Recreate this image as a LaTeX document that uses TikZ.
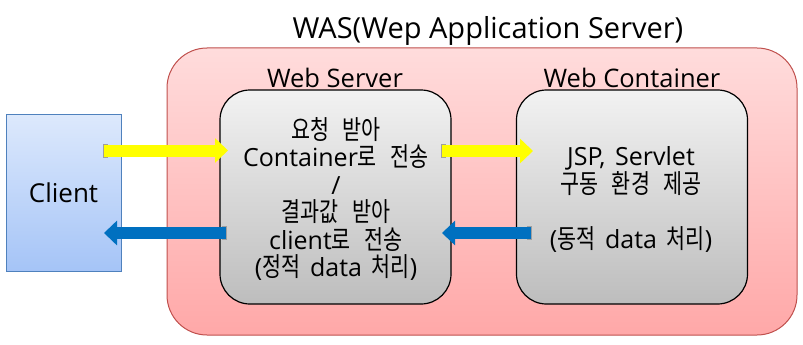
\documentclass[tikz,border=0pt]{standalone}
\usepackage{fontspec}
\setmainfont{Open Sans}
\newfontfamily\boxfont[WordSpace=1.5]{Open Sans}
\newfontfamily\kr[WordSpace=3,FakeStretch=0.78]{Noto Sans CJK KR}
\usetikzlibrary{arrows.meta}
\definecolor{wastop}{HTML}{FFDCDC}
\definecolor{wasbot}{HTML}{FFA8A8}
\definecolor{wasline}{HTML}{C0504D}
\definecolor{cltop}{HTML}{DDE9FC}
\definecolor{clbot}{HTML}{A5C4F7}
\definecolor{clline}{HTML}{4F81BD}
\definecolor{bxtop}{HTML}{F2F2F2}
\definecolor{bxbot}{HTML}{BDBDBD}
\definecolor{arrblue}{HTML}{0070C0}
\definecolor{arryel}{HTML}{FFFF00}
\tikzset{
  wasbox/.style={draw=wasline, line width=1pt, rounded corners=40pt, top color=wastop, bottom color=wasbot, minimum width=630pt, minimum height=287pt, inner sep=0pt},
  clientbox/.style={draw=clline, line width=1pt, top color=cltop, bottom color=clbot, minimum width=115pt, minimum height=157pt, inner sep=0pt},
  srvbox/.style={draw=black, line width=1.2pt, rounded corners=30pt, top color=bxtop, bottom color=bxbot, minimum width=231pt, minimum height=214pt, inner sep=0pt},
  boxtext/.style={align=center, font=\boxfont\fontsize{25}{27.5}\selectfont, inner sep=0pt},
  lbl/.style={font=\fontsize{25.5}{28}\selectfont, inner sep=0pt, anchor=base},
  ttl/.style={font=\fontsize{29}{30}\selectfont, inner sep=0pt, anchor=base},
  yelarrow/.style={draw=arryel, line width=12pt, -{Triangle[length=13pt,width=24pt]}},
  bluarrow/.style={draw=arrblue, line width=12pt, -{Triangle[length=13pt,width=24pt]}},
}
\newcommand{\ko}[1]{{\kr\fontsize{26.5}{27.5}\selectfont #1}}
\begin{document}
\begin{tikzpicture}[x=1pt,y=-1pt]
\useasboundingbox (0,0) rectangle (803,345);
\node[wasbox] (was) at (482,191.5) {};
\node[ttl] (wastitle) at (488,39) {WAS(Wep Application Server)};
\node[clientbox] (client) at (63.5,192.5) {};
\node[font=\fontsize{26}{28}\selectfont, inner sep=0pt] (clienttext) at (63.5,192.5) {Client};
\node[srvbox] (ws) at (335.5,197) {};
\node[srvbox] (wc) at (632,197) {};
\node[lbl] (wslbl) at (335,87) {Web Server};
\node[lbl] (wclbl) at (632,87) {Web Container};
\node[boxtext] (wstext) at (336,199) {\ko{요청 받아}\\Container\ko{로 전송}\\/\\\ko{결과값 받아}\\client\ko{로 전송}\\(\ko{정적} data \ko{처리})};
\node[boxtext] (wctext) at (631,199.5) {JSP, Servlet\\\ko{구동 환경 제공}\\[27.5pt](\ko{동적} data \ko{처리})};
% arrow end points
\coordinate (y1s) at (104,150.5);
\coordinate (y1e) at (228,150.5);
\coordinate (b1s) at (226,233);
\coordinate (b1e) at (104,233);
\coordinate (y2s) at (442,151);
\coordinate (y2e) at (533,151);
\coordinate (b2s) at (531,233);
\coordinate (b2e) at (442,233);
\fill[gray!75] ([xshift=-1pt]y1s) ++(0,-7) rectangle ++(5,14);
\draw[yelarrow] (y1s) -- (y1e);
\fill[gray!75] ([xshift=-1pt]y2s) ++(0,-7) rectangle ++(5,14);
\draw[yelarrow] (y2s) -- (y2e);
\fill[gray!75] ([xshift=1pt]b1s) ++(0,-7) rectangle ++(-5,14);
\draw[bluarrow] (b1s) -- (b1e);
\fill[gray!75] ([xshift=1pt]b2s) ++(0,-7) rectangle ++(-5,14);
\draw[bluarrow] (b2s) -- (b2e);
\end{tikzpicture}
\end{document}
